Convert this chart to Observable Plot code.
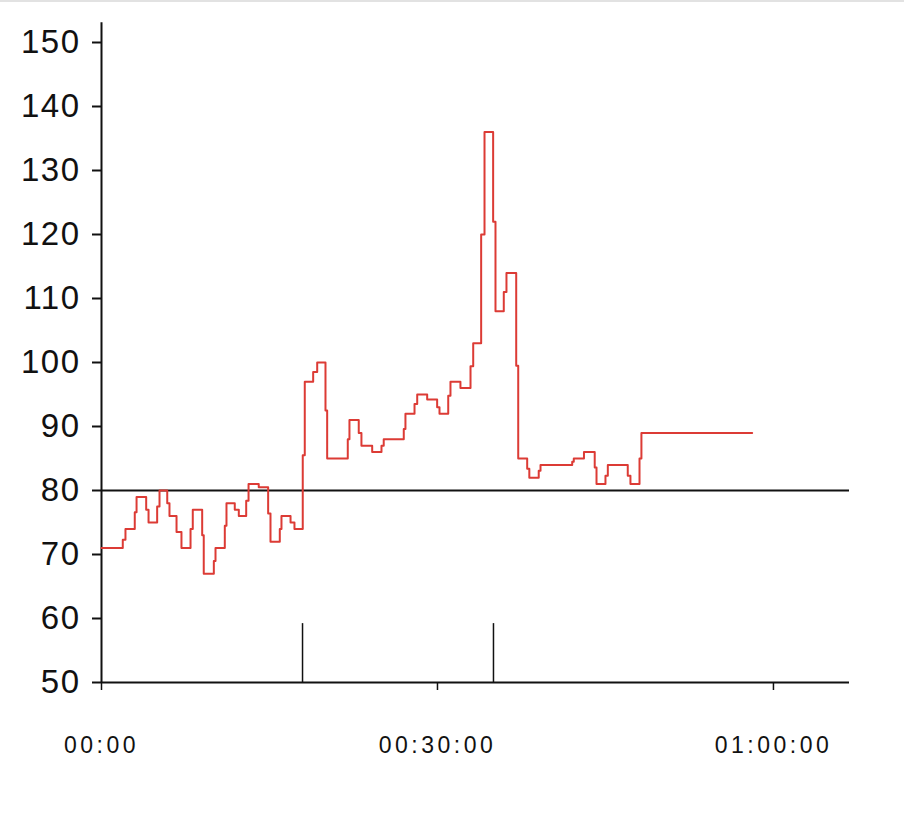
<!DOCTYPE html>
<html>
<head>
<meta charset="utf-8">
<script src="https://cdn.jsdelivr.net/npm/d3@7"></script>
<script src="https://cdn.jsdelivr.net/npm/@observablehq/plot@0.6"></script>
<style>
  html, body { margin: 0; padding: 0; background: #fff; }
  #top { height: 2px; background: #e2e2e2; }
  #chart svg { display: block; }
  #chart g[aria-label="y-axis tick label"] text { letter-spacing: 1.5px; }
  #chart g[aria-label="x-axis tick label"] text { letter-spacing: 3.5px; }
</style>
</head>
<body>
<div id="top"></div>
<div id="chart"></div>
<script>
// Time in minutes since start, and value at each step
const minutes = [0, 1.90, 2.14, 2.97, 3.13, 3.99, 4.20, 4.97, 5.18, 5.87, 6.07, 6.70, 7.14, 7.95, 8.15, 8.99, 9.13, 10.03, 10.18, 11.01, 11.16, 11.90, 12.26, 12.92, 13.13, 14.04, 14.88, 15.09, 15.92, 16.07, 16.88, 17.23, 17.97, 18.15, 18.90, 19.26, 20.00, 20.15, 21.99, 22.14, 22.97, 23.21, 24.17, 25.00, 25.20, 26.99, 27.14, 27.95, 28.19, 29.08, 29.97, 30.18, 30.96, 31.16, 32.05, 32.95, 33.19, 33.90, 34.20, 34.97, 35.18, 35.92, 36.16, 37.03, 37.21, 38.01, 38.20, 39.04, 39.20, 42.03, 42.17, 43.08, 44.04, 44.20, 45.00, 45.21, 46.99, 47.23, 48.04, 48.21, 58.10];
const values  = [71, 72.3, 74, 76.6, 79, 77, 75, 77.5, 80, 78, 76, 73.5, 71, 74, 77, 73, 67, 69, 71, 74.5, 78, 77, 76, 78.4, 81, 80.5, 76.4, 72, 74, 76, 75, 74, 85.5, 97, 98.5, 100, 92.5, 85, 88, 91, 89, 87, 86, 87, 88, 89.6, 92, 93.5, 95, 94.2, 93, 92, 94.8, 97, 96, 99.4, 103, 120, 136, 122, 108, 111, 114, 99.5, 85, 83.4, 82, 83.1, 84, 84.5, 85, 86, 83.6, 81, 82.3, 84, 82.3, 81, 85, 89, 89];
const markerMinutes = [17.95, 35.0];
const markerTop = 59.2;
const threshold = 80;
const yTicks = [50, 60, 70, 80, 90, 100, 110, 120, 130, 140, 150];
const xTicks = [0, 30, 60];
const xTickLabels = ["00:00", "00:30:00", "01:00:00"];

const data = minutes.map((m, i) => ({m, v: values[i]}));
const xMax = 66.79;

const chart = Plot.plot({
  width: 904,
  height: 818,
  marginLeft: 101,
  marginRight: 55,
  marginTop: 40,
  marginBottom: 138,
  style: {fontFamily: "'Liberation Sans', Arial, sans-serif", color: "#111"},
  x: {domain: [0, xMax], label: null},
  y: {domain: [50, 150], label: null},
  marks: [
    Plot.axisY({ticks: yTicks, label: null, tickSize: 9, tickPadding: 12, fontSize: 33, strokeWidth: 2, stroke: "#111"}),
    Plot.axisX({ticks: xTicks, label: null, tickSize: 8, tickPadding: 46, fontSize: 23, strokeWidth: 1.5, stroke: "#111",
      tickFormat: (d) => xTickLabels[xTicks.indexOf(d)]}),
    Plot.ruleX([0], {y1: 50, y2: 153.1, stroke: "#111", strokeWidth: 2}),
    Plot.ruleY([50], {x1: 0, x2: xMax, stroke: "#111", strokeWidth: 2}),
    Plot.ruleY([threshold], {x1: 0, x2: xMax, stroke: "#111", strokeWidth: 2}),
    Plot.ruleX(markerMinutes, {y1: 50, y2: markerTop, stroke: "#111", strokeWidth: 1.5}),
    Plot.line(data, {x: "m", y: "v", curve: "step-after", stroke: "#dc3b35", strokeWidth: 2})
  ]
});
document.getElementById("chart").appendChild(chart);
</script>
</body>
</html>
